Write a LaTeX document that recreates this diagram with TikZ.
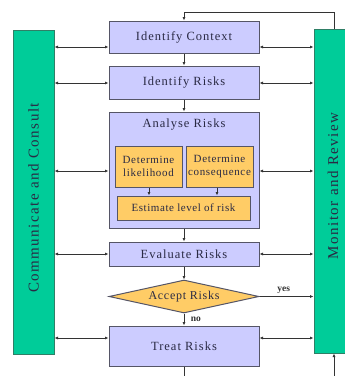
\documentclass[tikz,border=0pt]{standalone}
\usepackage{fontspec}
\setmainfont{Liberation Serif}
\usetikzlibrary{shapes.geometric,arrows.meta}
\definecolor{boxfill}{HTML}{CCCCFF}
\definecolor{orfill}{HTML}{FFCC66}
\definecolor{grfill}{HTML}{00CC99}
\definecolor{grline}{HTML}{2F7F66}
\definecolor{edge}{HTML}{555566}
\definecolor{txt}{HTML}{2A2A44}
\definecolor{ln}{HTML}{333333}
\tikzset{
  stepbox/.style={draw=edge, line width=1pt, fill=boxfill, text=txt, inner sep=0pt,
    font=\fontsize{12.5}{14}\selectfont\addfontfeature{LetterSpace=8}},
  subbox/.style={draw=edge, line width=1pt, fill=orfill, text=txt, inner sep=0pt, align=center,
    font=\fontsize{11}{12.5}\selectfont\addfontfeature{LetterSpace=6}},
  bar/.style={draw=grline, line width=1pt, fill=grfill, text=txt, inner sep=0pt},
  barlabel/.style={text=txt, rotate=90, font=\fontsize{15}{17}\selectfont\addfontfeature{LetterSpace=10}},
  arr/.style={draw=ln, line width=0.9pt, -{Latex[length=3.5pt,width=3pt]}},
  dar/.style={draw=ln, line width=0.9pt, {Latex[length=3.5pt,width=3pt]}-{Latex[length=3.5pt,width=3pt]}},
  lbl/.style={text=ln, font=\fontsize{9.5}{11}\selectfont\bfseries},
}
\begin{document}
\begin{tikzpicture}[x=1pt,y=-1pt]
\clip (0,0) rectangle (345,376);
\fill[white] (0,0) rectangle (345,376);
% bars
\node[bar, minimum width=41pt, minimum height=324pt] (lb) at (33.5,192) {};
\node[barlabel] (lbt) at (33.5,198) {Communicate and Consult};
\node[bar, minimum width=40pt, minimum height=324pt] (rb) at (334,191) {};
\node[barlabel] (rbt) at (333,186) {Monitor and Review};
% main boxes
\node[stepbox, minimum width=150pt, minimum height=32pt] (ctx) at (184,37) {Identify Context};
\node[stepbox, minimum width=150pt, minimum height=33pt] (idr) at (184,82.5) {Identify Risks};
\node[stepbox, minimum width=150pt, minimum height=116pt] (ana) at (184,170) {};
\node[text=txt, font=\fontsize{12.5}{14}\selectfont\addfontfeature{LetterSpace=8}] (anat) at (184,125) {Analyse Risks};
\node[subbox, minimum width=67pt, minimum height=41pt] (lik) at (148.5,166.5) {Determine\\likelihood};
\node[subbox, minimum width=67pt, minimum height=41pt] (con) at (219.5,166.5) {Determine\\consequence};
\node[subbox, minimum width=133pt, minimum height=24pt,
  font=\fontsize{11}{12}\selectfont\addfontfeature{LetterSpace=5}] (est) at (183.5,208) {Estimate level of risk};
\node[stepbox, minimum width=150pt, minimum height=24pt] (eva) at (184,254) {Evaluate Risks};
\node[diamond, aspect=4.5, draw=edge, line width=1pt, fill=orfill, text=txt, inner sep=0pt,
  minimum width=150pt, minimum height=33pt,
  font=\fontsize{12}{14}\selectfont\addfontfeature{LetterSpace=6}] (acc) at (184,296.5) {Accept Risks};
\node[stepbox, minimum width=150pt, minimum height=40pt] (trt) at (184,346) {Treat Risks};
% vertical flow
\draw[arr] (ctx.south) -- (idr.north);
\draw[arr] (idr.south) -- (ana.north);
\draw[arr] (lik.south -| 149,0) -- (est.north -| 149,0);
\draw[arr] (con.south -| 217,0) -- (est.north -| 217,0);
\draw[arr] (ana.south) -- (eva.north);
\draw[arr] (eva.south) -- (acc.north);
\draw[arr] (acc.south) -- node[lbl, right=3pt, pos=0.45] {no} (trt.north);
\draw[arr] (acc.east) -- node[lbl, above=-1pt, pos=0.45] {yes} (rb.west |- acc.east);
% side double arrows
\foreach \n/\y in {ctx/47, idr/83, ana/171, eva/254, trt/338}{
  \draw[dar] (lb.east |- 0,\y) -- (\n.west |- 0,\y);
  \draw[dar] (\n.east |- 0,\y) -- (rb.west |- 0,\y);
}
% loops
\coordinate (top) at (184,12);
\draw[arr] (rb.north) |- (top) -- (ctx.north);
\coordinate (bot) at (334,385);
\draw[draw=ln, line width=0.9pt] (trt.south) -- (trt.south |- bot);
\draw[arr] (bot) -- (rb.south);
\end{tikzpicture}
\end{document}
